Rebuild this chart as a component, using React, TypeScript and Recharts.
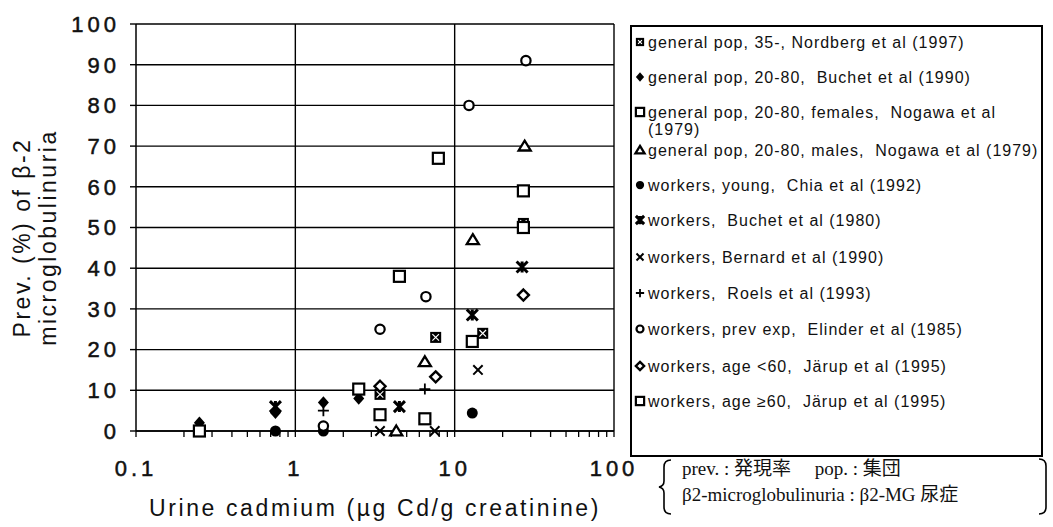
import React from "react";
import {
  ScatterChart,
  Scatter,
  XAxis,
  YAxis,
  CartesianGrid,
  ReferenceLine,
} from "recharts";

// axis ticks
const xTicks = [
  0.1, 0.2, 0.3, 0.4, 0.5, 0.6, 0.7, 0.8, 0.9,
  1, 2, 3, 4, 5, 6, 7, 8, 9,
  10, 20, 30, 40, 50, 60, 70, 80, 90, 100,
];
const xMajor = [0.1, 1, 10, 100];
const yTicks = [0, 10, 20, 30, 40, 50, 60, 70, 80, 90, 100];

// series values (urine Cd, prevalence %)
const nordberg = [
  { x: 3.4, y: 9 },
  { x: 7.6, y: 23 },
  { x: 15, y: 24 },
  { x: 27, y: 51 },
];
const buchetPop = [
  { x: 0.25, y: 2 },
  { x: 0.75, y: 4.5 },
  { x: 1.5, y: 7 },
  { x: 2.5, y: 8 },
];
const nogawaFemales = [
  { x: 4.5, y: 38 },
  { x: 7.9, y: 67 },
  { x: 27, y: 59 },
];
const nogawaMales = [
  { x: 4.3, y: 0 },
  { x: 6.5, y: 17 },
  { x: 13, y: 47 },
  { x: 27.5, y: 70 },
];
const chiaYoung = [
  { x: 0.75, y: 0 },
  { x: 1.5, y: 0 },
  { x: 12.9, y: 4.4 },
];
const buchetWorkers = [
  { x: 0.75, y: 6 },
  { x: 4.5, y: 6 },
  { x: 12.9, y: 28.5 },
  { x: 26.5, y: 40.3 },
];
const bernard = [
  { x: 3.4, y: 0 },
  { x: 7.5, y: 0 },
  { x: 14, y: 15 },
];
const roels = [
  { x: 1.5, y: 5 },
  { x: 6.5, y: 10.3 },
];
const elinder = [
  { x: 1.5, y: 1.2 },
  { x: 3.4, y: 25 },
  { x: 6.6, y: 33 },
  { x: 12.3, y: 80 },
  { x: 28, y: 91 },
];
const jarupYoung = [
  { x: 3.4, y: 11 },
  { x: 7.6, y: 13.3 },
  { x: 27, y: 33.4 },
];
const jarupOld = [
  { x: 0.25, y: 0 },
  { x: 2.5, y: 10.3 },
  { x: 3.4, y: 4 },
  { x: 6.5, y: 3 },
  { x: 12.9, y: 22 },
  { x: 27, y: 50 },
];

const series = [
  { name: "general pop, 35-, Nordberg et al (1997)", kind: "xsquare", data: nordberg },
  { name: "general pop, 20-80,  Buchet et al (1990)", kind: "diamondFilled", data: buchetPop },
  { name: "general pop, 20-80, females,  Nogawa et al\n(1979)", kind: "square", data: nogawaFemales },
  { name: "general pop, 20-80, males,  Nogawa et al (1979)", kind: "triangle", data: nogawaMales },
  { name: "workers, young,  Chia et al (1992)", kind: "dot", data: chiaYoung },
  { name: "workers,  Buchet et al (1980)", kind: "asterisk", data: buchetWorkers },
  { name: "workers, Bernard et al (1990)", kind: "x", data: bernard },
  { name: "workers,  Roels et al (1993)", kind: "plus", data: roels },
  { name: "workers, prev exp,  Elinder et al (1985)", kind: "circle", data: elinder },
  { name: "workers, age <60,  Järup et al (1995)", kind: "diamond", data: jarupYoung },
  { name: "workers, age \u226560,  Järup et al (1995)", kind: "square", data: jarupOld },
];

// legend row centres, relative to the legend box top
const legendRows = [15, 50, 85, 123, 158, 193, 230, 266, 302, 339, 374];

const sans = "'Liberation Sans', Arial, sans-serif";

function Mark({ kind, cx, cy, s = 1 }: { kind: string; cx: number; cy: number; s?: number }) {
  const r = 5.5 * s;
  switch (kind) {
    case "xsquare":
      return (
        <g>
          <rect x={cx - r} y={cy - r} width={2 * r} height={2 * r} fill="#000" />
          <path
            d={`M${cx - r + 2.2} ${cy - r + 2.2}L${cx + r - 2.2} ${cy + r - 2.2}M${cx + r - 2.2} ${cy - r + 2.2}L${cx - r + 2.2} ${cy + r - 2.2}`}
            stroke="#fff"
            strokeWidth={1.2}
          />
        </g>
      );
    case "diamondFilled":
      return (
        <polygon
          points={`${cx},${cy - r * 1.15} ${cx + r},${cy} ${cx},${cy + r * 1.15} ${cx - r},${cy}`}
          fill="#000"
        />
      );
    case "square":
      return (
        <rect x={cx - r} y={cy - r} width={2 * r} height={2 * r} fill="#fff" stroke="#000" strokeWidth={2.2} />
      );
    case "triangle":
      return (
        <polygon
          points={`${cx},${cy - r} ${cx + r * 1.1},${cy + r * 0.8} ${cx - r * 1.1},${cy + r * 0.8}`}
          fill="#fff"
          stroke="#000"
          strokeWidth={2.3}
        />
      );
    case "dot":
      return <circle cx={cx} cy={cy} r={r} fill="#000" />;
    case "asterisk":
      return (
        <path
          d={`M${cx - r} ${cy - r}L${cx + r} ${cy + r}M${cx + r} ${cy - r}L${cx - r} ${cy + r}M${cx} ${cy - r}L${cx} ${cy + r}`}
          stroke="#000"
          strokeWidth={3}
        />
      );
    case "x":
      return (
        <path
          d={`M${cx - r * 0.85} ${cy - r * 0.85}L${cx + r * 0.85} ${cy + r * 0.85}M${cx + r * 0.85} ${cy - r * 0.85}L${cx - r * 0.85} ${cy + r * 0.85}`}
          stroke="#000"
          strokeWidth={2}
        />
      );
    case "plus":
      return (
        <path
          d={`M${cx - r} ${cy}L${cx + r} ${cy}M${cx} ${cy - r}L${cx} ${cy + r}`}
          stroke="#000"
          strokeWidth={1.8}
        />
      );
    case "circle":
      return <circle cx={cx} cy={cy} r={r * 0.85} fill="#fff" stroke="#000" strokeWidth={2.2} />;
    case "diamond":
      return (
        <polygon
          points={`${cx},${cy - r} ${cx + r},${cy} ${cx},${cy + r} ${cx - r},${cy}`}
          fill="#fff"
          stroke="#000"
          strokeWidth={2.4}
        />
      );
    default:
      return null;
  }
}

const XTick = (props: any) => {
  const { x, y, payload } = props;
  if (!xMajor.includes(payload.value)) return null;
  return (
    <text
      x={x}
      y={y}
      dy={17}
      textAnchor="middle"
      fontFamily={sans}
      fontSize={22}
      letterSpacing={4}
      fill="#111"
      stroke="#111"
      strokeWidth={0.5}
    >
      {String(payload.value)}
    </text>
  );
};

const YLabel = (props: any) => {
  const { viewBox } = props;
  const cy = viewBox.y + viewBox.height / 2 + 10;
  return (
    <g fontFamily={sans} fontSize={23} letterSpacing={2.5} fill="#111">
      <text x={22} y={cy} transform={`rotate(-90 22 ${cy})`} textAnchor="middle" dominantBaseline="central">
        Prev. (%) of β-2
      </text>
      <text x={48} y={cy} transform={`rotate(-90 48 ${cy})`} textAnchor="middle" dominantBaseline="central">
        microglobulinuria
      </text>
    </g>
  );
};

const XLabel = (props: any) => {
  const { viewBox } = props;
  const cx = viewBox.x + viewBox.width / 2;
  return (
    <text
      x={cx}
      y={viewBox.y + 85}
      textAnchor="middle"
      fontFamily={sans}
      fontSize={23}
      letterSpacing={2.6}
      fill="#111"
    >
      Urine cadmium (µg Cd/g creatinine)
    </text>
  );
};

export default function App() {
  return (
    <div style={{ position: "absolute", left: 0, top: 0, width: 1053, height: 527, background: "#fff" }}>
      <ScatterChart width={1053} height={527} margin={{ top: 24, right: 439, bottom: 0, left: 0 }}>
        <CartesianGrid vertical={false} stroke="#000" strokeWidth={1.4} />
        <XAxis
          type="number"
          dataKey="x"
          scale="log"
          domain={[0.1, 100]}
          ticks={xTicks}
          interval={0}
          allowDataOverflow
          height={96}
          tickSize={6}
          tickMargin={22}
          tick={<XTick />}
          tickLine={{ stroke: "#000", strokeWidth: 1.3 }}
          axisLine={{ stroke: "#000", strokeWidth: 1.5 }}
          label={<XLabel />}
        />
        <YAxis
          type="number"
          dataKey="y"
          domain={[0, 100]}
          ticks={yTicks}
          interval={0}
          width={136}
          tickSize={6}
          tickMargin={10}
          tick={{ fontFamily: sans, fontSize: 22, letterSpacing: 4, fill: "#111", stroke: "#111", strokeWidth: 0.5 }}
          tickLine={{ stroke: "#000", strokeWidth: 1.4 }}
          axisLine={{ stroke: "#000", strokeWidth: 1.5 }}
          label={<YLabel />}
        />
        <ReferenceLine x={1} stroke="#000" strokeWidth={1.4} />
        <ReferenceLine x={10} stroke="#000" strokeWidth={1.4} />
        <ReferenceLine x={100} stroke="#000" strokeWidth={1.4} />
        {series.map((s) => (
          <Scatter
            key={s.name}
            name={s.name}
            data={s.data}
            isAnimationActive={false}
            shape={(p: any) => <Mark kind={s.kind} cx={p.cx} cy={p.cy} />}
          />
        ))}
      </ScatterChart>

      <div
        style={{
          position: "absolute",
          left: 630,
          top: 25,
          width: 413,
          height: 432,
          border: "2px solid #000",
          boxSizing: "border-box",
          fontFamily: sans,
          fontSize: 16,
          letterSpacing: 1,
          color: "#111",
        }}
      >
        {series.map((s, i) => (
          <div
            key={s.name}
            style={{ position: "absolute", left: 1, top: legendRows[i] - 10, display: "flex", alignItems: "flex-start" }}
          >
            <svg width={15} height={20} style={{ flex: "none" }}>
              <Mark kind={s.kind} cx={7} cy={10} s={0.75} />
            </svg>
            <span style={{ whiteSpace: "pre", lineHeight: "17px", marginTop: 2 }}>{s.name}</span>
          </div>
        ))}
      </div>

      <svg width={1053} height={527} style={{ position: "absolute", left: 0, top: 0, pointerEvents: "none" }}>
        <path d="M671 460 Q664 460 664 467 L664 481 Q664 486 659 487 Q664 488 664 493 L664 507 Q664 514 671 514" fill="none" stroke="#000" strokeWidth={1.6} />
        <path d="M1039 459 Q1046 459 1046 466 L1046 507 Q1046 514 1039 514" fill="none" stroke="#000" strokeWidth={1.6} />
        <g fontFamily="'Liberation Serif', 'Noto Sans CJK JP', serif" fontSize={19} fill="#111">
          <text x={682} y={475}>prev. : 発現率　 pop. : 集団</text>
          <text x={682} y={501}>β2-microglobulinuria : β2-MG 尿症</text>
        </g>
      </svg>
    </div>
  );
}
